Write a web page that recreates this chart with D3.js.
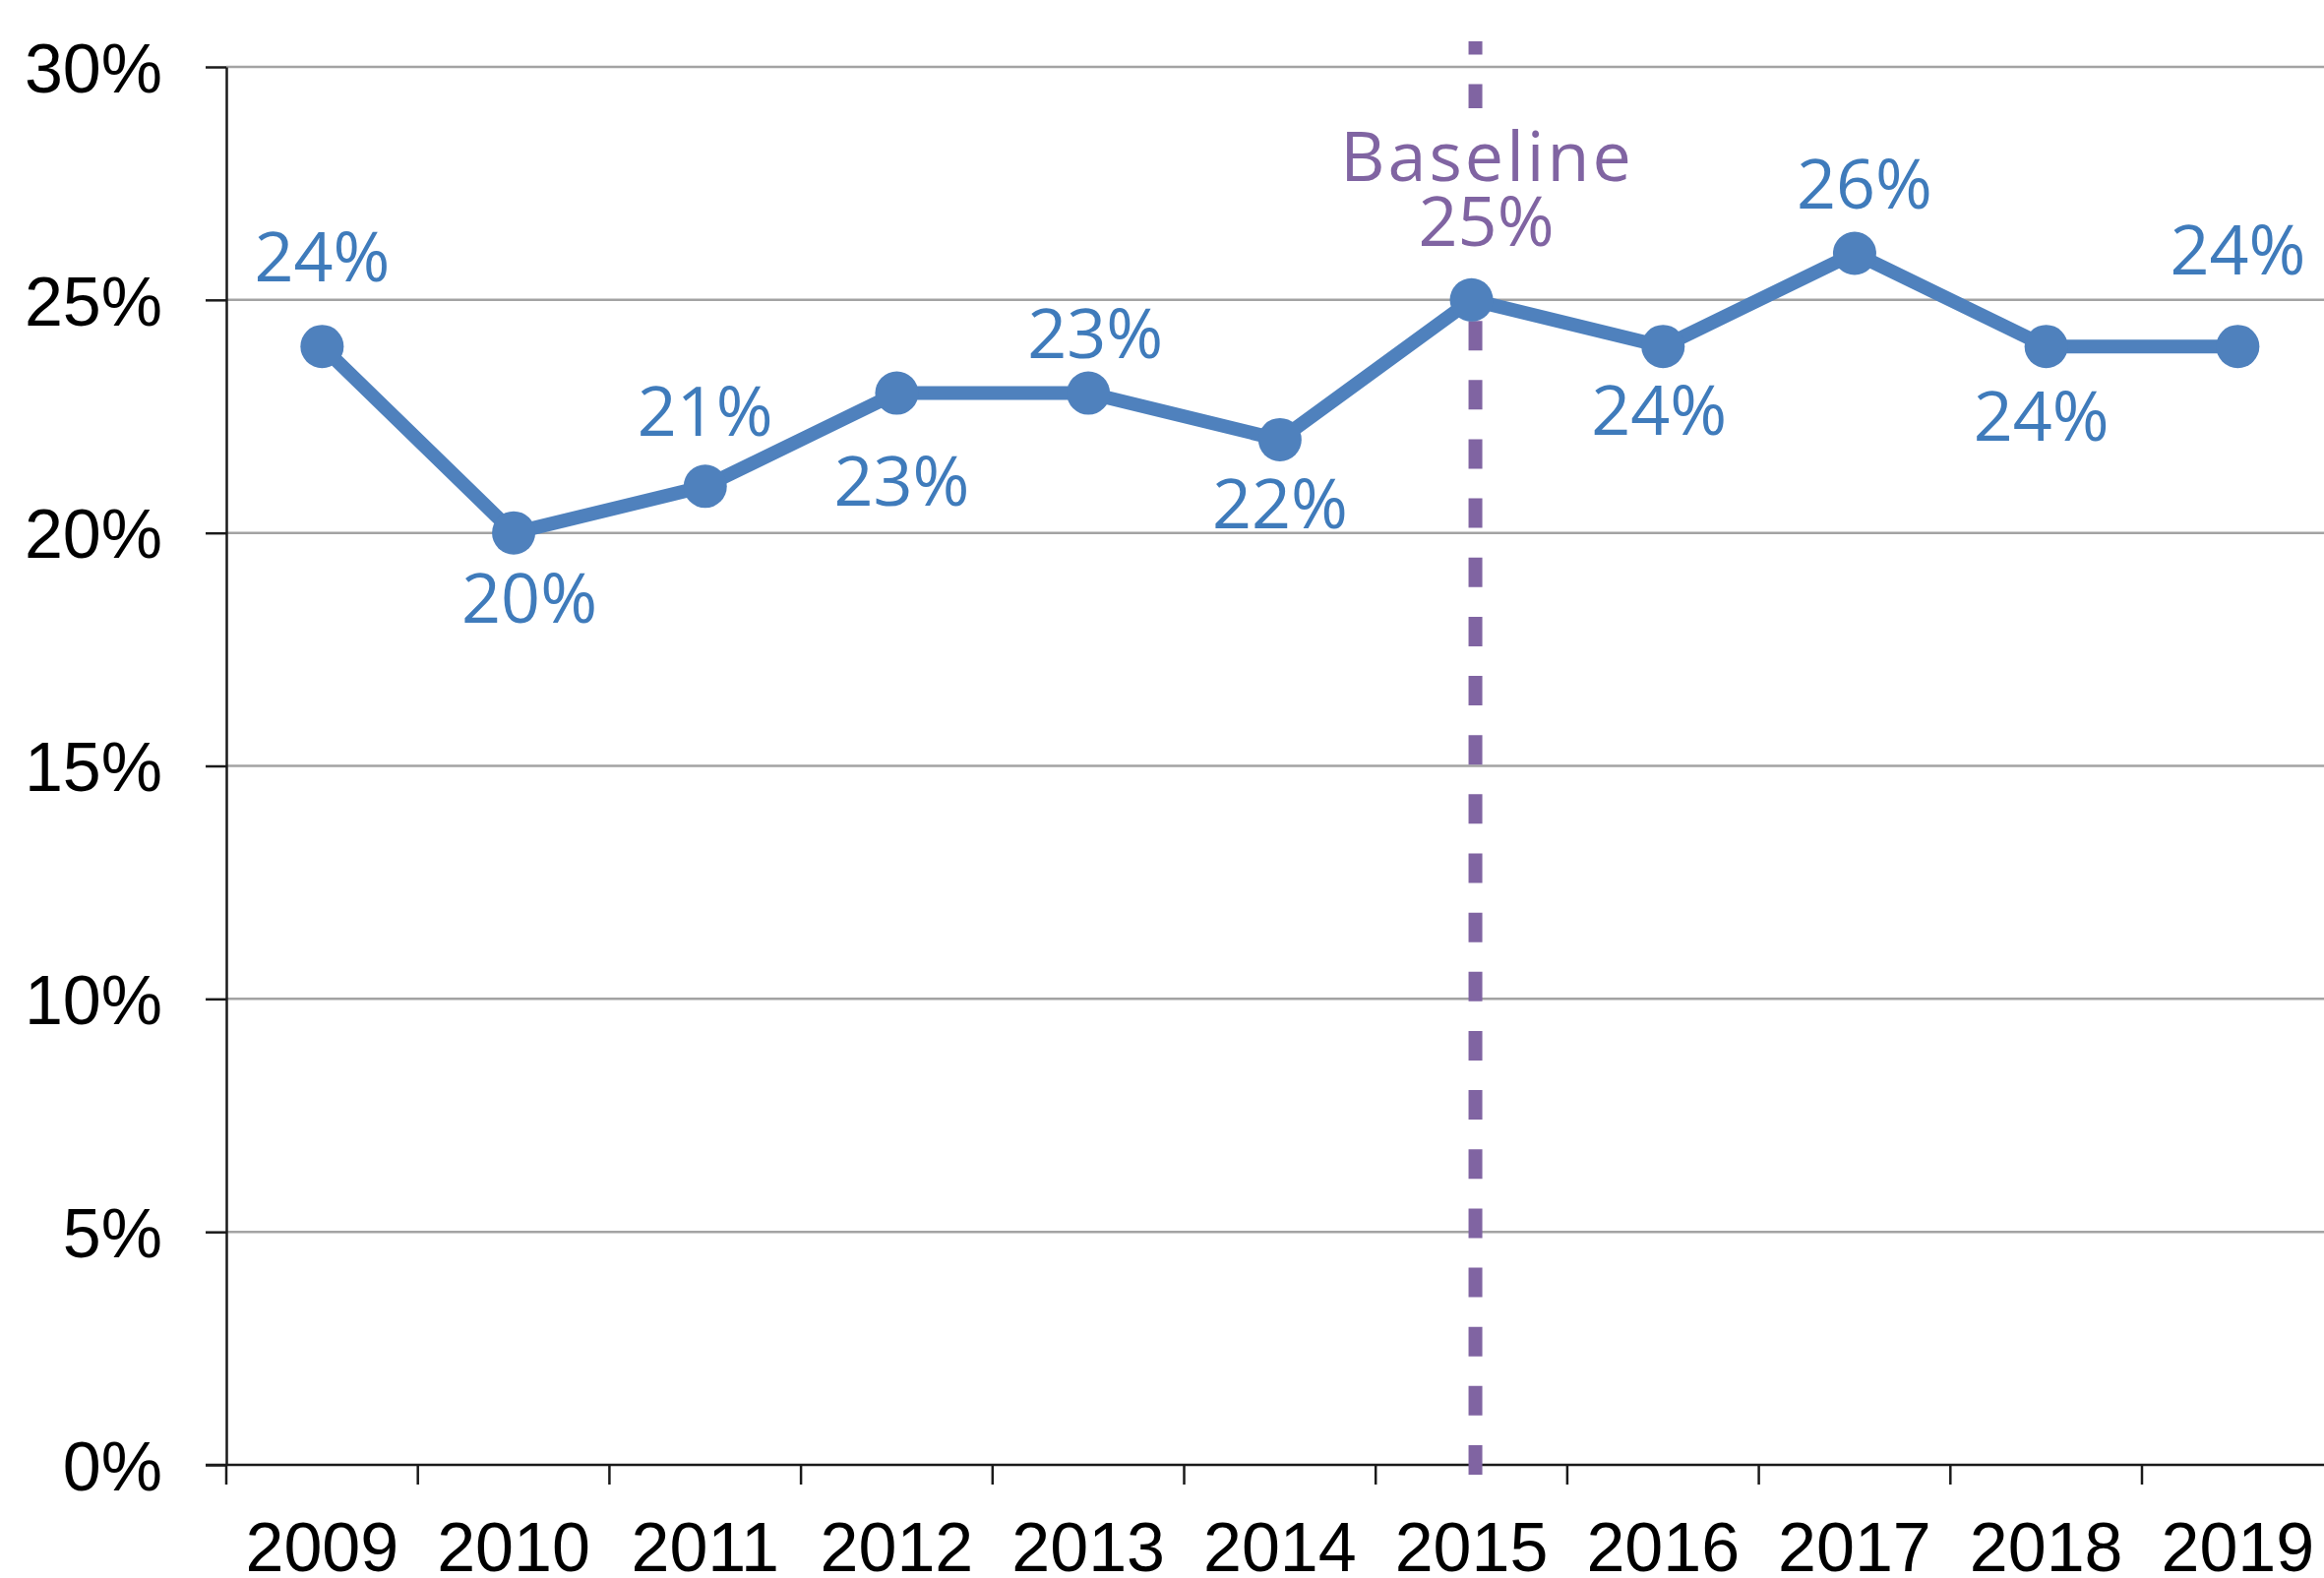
<!DOCTYPE html>
<html>
  <head>
    <script src="https://d3js.org/d3.v7.min.js"></script>
  </head>
  <body>
    <svg id="viz"></svg>
  </body>
  <script>
    const years = ["2009", "2010", "2011", "2012", "2013", "2014", "2015", "2016", "2017", "2018", "2019"];
    const rates = [0.24, 0.2, 0.21, 0.23, 0.23, 0.22, 0.25, 0.24, 0.26, 0.24, 0.24];
    const yTicks = [0, 0.05, 0.1, 0.15, 0.2, 0.25, 0.3];
    const baselineYear = "2015";
    const baselineText = "Baseline";

    // hand placement of the data labels, like the original chart (dx, dy from the point)
    const labelNudge = [
      [0, -66], [16, 91], [0, -51], [5, 114], [7, -36], [0, 90],
      [15, -55], [-4, 90], [10, -45], [-5, 96], [0, -73]
    ];

    function draw() {
      const width = 2362;
      const height = 1604;
      const svg = d3.select("svg#viz").attr("width", width).attr("height", height);

      const left = 230;
      const step = 194.7;
      const top = 68;
      const bottom = 1489;

      const x = d3.scaleBand().domain(years).range([left, left + step * years.length]);
      const y = d3.scaleLinear().domain([0, 0.3]).range([bottom, top]);
      const cx = (d) => x(d) + x.bandwidth() / 2;

      // gridlines
      svg
        .append("g")
        .selectAll("line")
        .data(yTicks.filter((d) => d > 0))
        .join("line")
        .attr("x1", left)
        .attr("x2", width)
        .attr("y1", (d) => y(d))
        .attr("y2", (d) => y(d))
        .attr("stroke", "#a3a3a3")
        .attr("stroke-width", 2.5);

      // y axis
      const yAxis = svg
        .append("g")
        .attr("transform", `translate(${left},0)`)
        .call(d3.axisLeft(y).tickValues(yTicks).tickFormat(d3.format(".0%")).tickSize(21).tickSizeOuter(0));
      yAxis.select(".domain").attr("stroke", "#1a1a1a").attr("stroke-width", 2.5);
      yAxis.selectAll(".tick line").attr("stroke", "#1a1a1a").attr("stroke-width", 2.5);
      yAxis
        .selectAll(".tick text")
        .attr("x", -65)
        .attr("dy", "0.36em")
        .style("font-family", "'Liberation Sans', Arial, sans-serif")
        .style("font-size", "70px")
        .attr("fill", "#000");

      // x axis
      const xAxis = svg.append("g").attr("transform", `translate(0,${bottom})`);
      xAxis
        .append("line")
        .attr("x1", left - 21)
        .attr("x2", width)
        .attr("stroke", "#1a1a1a")
        .attr("stroke-width", 2.5);
      xAxis
        .selectAll("line.tick")
        .data(years.slice(1).concat(["end"]))
        .join("line")
        .attr("class", "tick")
        .attr("x1", (d) => (d === "end" ? x.range()[1] : x(d)))
        .attr("x2", (d) => (d === "end" ? x.range()[1] : x(d)))
        .attr("y1", 0)
        .attr("y2", 20)
        .attr("stroke", "#1a1a1a")
        .attr("stroke-width", 2.5);
      xAxis
        .append("line")
        .attr("x1", left)
        .attr("x2", left)
        .attr("y1", 0)
        .attr("y2", 20)
        .attr("stroke", "#1a1a1a")
        .attr("stroke-width", 2.5);
      xAxis
        .selectAll("text")
        .data(years)
        .join("text")
        .attr("x", cx)
        .attr("y", 108)
        .attr("text-anchor", "middle")
        .style("font-family", "'Liberation Sans', Arial, sans-serif")
        .style("font-size", "70px")
        .attr("fill", "#000")
        .text((d) => d);

      // baseline marker
      const bx = cx(baselineYear) + 4;
      const bi = years.indexOf(baselineYear);
      svg
        .append("line")
        .attr("x1", bx)
        .attr("x2", bx)
        .attr("y1", 1499)
        .attr("y2", 42)
        .attr("stroke", "#8064a2")
        .attr("stroke-width", 14)
        .attr("stroke-dasharray", "30 30.15");
      svg
        .append("rect")
        .attr("x", bx - 140)
        .attr("y", 110)
        .attr("width", 310)
        .attr("height", 182)
        .attr("fill", "#fff");

      // series
      const line = d3
        .line()
        .x((d, i) => cx(years[i]))
        .y((d) => y(d));
      svg
        .append("path")
        .datum(rates)
        .attr("d", line)
        .attr("fill", "none")
        .attr("stroke", "#4f81bd")
        .attr("stroke-width", 14)
        .attr("stroke-linejoin", "round");
      svg
        .append("g")
        .selectAll("circle")
        .data(rates)
        .join("circle")
        .attr("cx", (d, i) => cx(years[i]))
        .attr("cy", (d) => y(d))
        .attr("r", 22)
        .attr("fill", "#4f81bd");

      // data labels
      const fmt = d3.format(".0%");
      svg
        .append("g")
        .selectAll("text")
        .data(rates)
        .join("text")
        .attr("x", (d, i) => cx(years[i]) + labelNudge[i][0])
        .attr("y", (d, i) => y(d) + labelNudge[i][1])
        .attr("text-anchor", "middle")
        .style("font-family", "'Open Sans', sans-serif")
        .style("font-size", "70px")
        .attr("fill", (d, i) => (i === bi ? "#8064a2" : "#3f7bbb"))
        .text((d) => fmt(d));
      svg
        .append("text")
        .attr("x", cx(baselineYear) + 16)
        .attr("y", y(rates[bi]) - 121)
        .attr("text-anchor", "middle")
        .style("font-family", "'Open Sans', sans-serif")
        .style("font-size", "70px")
        .style("letter-spacing", "3px")
        .attr("fill", "#8064a2")
        .text(baselineText);
    }

    draw();
  </script>
  <style>
    body {
      margin: 0px;
    }
  </style>
</html>
